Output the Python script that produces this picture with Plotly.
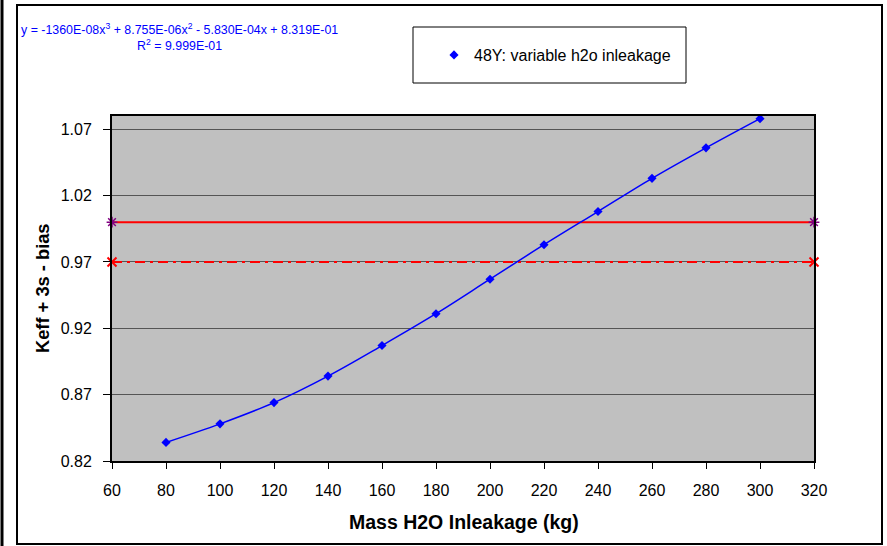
import plotly.graph_objects as go

# ---- data ----
mass_kg = [80, 100, 120, 140, 160, 180, 200, 220, 240, 260, 280, 300]
keff_3s_bias = [0.834, 0.848, 0.864, 0.884, 0.907, 0.931, 0.957, 0.983, 1.008, 1.033, 1.056, 1.078]
series_name = "48Y: variable h2o inleakage"
limit_x = [60, 320]
upper_limit = [1.0, 1.0]
lower_limit = [0.97, 0.97]
y_ticks = [0.82, 0.87, 0.92, 0.97, 1.02, 1.07]
x_ticks = list(range(60, 321, 20))
equation = "y = -1360E-08x<sup>3</sup> + 8.755E-06x<sup>2</sup> - 5.830E-04x + 8.319E-01"
r2_text = "R<sup>2</sup> = 9.999E-01"

W, H = 887, 546
L, R, T, B = 112, 814, 116, 461


def px(x):
    return (x - L) / (R - L)


def py(y):
    return (B - y) / (B - T)


FONT = "Liberation Sans, Arial, sans-serif"

fig = go.Figure()

fig.add_trace(go.Scatter(
    x=limit_x, y=upper_limit, mode="lines+markers", showlegend=False,
    line=dict(color="#FF0000", width=2),
    marker=dict(symbol="asterisk-open", size=9, color="#800080",
                line=dict(color="#800080", width=1.5)),
    cliponaxis=False, hoverinfo="skip"))
fig.add_trace(go.Scatter(
    x=limit_x, y=lower_limit, mode="lines+markers", showlegend=False,
    line=dict(color="#FF0000", width=2, dash="10px,5px,3px,5px"),
    marker=dict(symbol="x-thin-open", size=9, color="#FF0000",
                line=dict(color="#FF0000", width=2)),
    cliponaxis=False, hoverinfo="skip"))

fig.add_trace(go.Scatter(
    x=mass_kg, y=keff_3s_bias, mode="lines+markers", name=series_name,
    showlegend=False, legendgroup="s",
    line=dict(color="#0000FF", width=1.5, shape="spline"),
    marker=dict(symbol="diamond", size=7, color="#0000FF"),
    cliponaxis=False))
# legend entry (marker only, as in the reference legend)
fig.add_trace(go.Scatter(
    x=[None], y=[None], mode="markers", name=series_name, legendgroup="s",
    marker=dict(symbol="diamond", size=7, color="#0000FF")))

shapes = [
    # chart area frame
    dict(type="rect", xref="paper", yref="paper",
         x0=px(17), x1=px(882), y0=py(544), y1=py(5),
         line=dict(color="black", width=2), layer="below"),
    # left outer line
    dict(type="line", xref="paper", yref="paper",
         x0=px(2), x1=px(2), y0=py(546), y1=py(0),
         line=dict(color="black", width=3)),
    # legend box
    dict(type="rect", xref="paper", yref="paper",
         x0=px(413), x1=px(686), y0=py(83), y1=py(27),
         line=dict(color="black", width=1), fillcolor="white", layer="below"),
]

annotations = [
    dict(text=equation, xref="paper", yref="paper", x=px(19), y=py(29),
         xanchor="left", yanchor="middle", showarrow=False,
         font=dict(family=FONT, size=12.4, color="#0000FF")),
    dict(text=r2_text, xref="paper", yref="paper", x=px(179), y=py(45),
         xanchor="center", yanchor="middle", showarrow=False,
         font=dict(family=FONT, size=12.4, color="#0000FF")),
    dict(text="<b>Keff + 3s - bias</b>", xref="paper", yref="paper",
         x=px(42), y=py(288), textangle=-90, xanchor="center", yanchor="middle",
         showarrow=False, font=dict(family=FONT, size=18.3, color="black")),
    dict(text="<b>Mass H2O Inleakage (kg)</b>", xref="paper", yref="paper",
         x=px(464), y=py(522), xanchor="center", yanchor="middle",
         showarrow=False, font=dict(family=FONT, size=19.5, color="black")),
]

fig.update_layout(
    width=W, height=H,
    margin=dict(l=L, r=W - R, t=T, b=H - B, pad=0),
    paper_bgcolor="white", plot_bgcolor="#C0C0C0",
    font=dict(family=FONT, size=16, color="black"),
    shapes=shapes, annotations=annotations,
    showlegend=True,
    legend=dict(x=px(434), y=py(55), xanchor="left", yanchor="middle",
                bgcolor="rgba(0,0,0,0)", borderwidth=0,
                font=dict(family=FONT, size=16, color="black"),
                itemwidth=30),
    xaxis=dict(range=[60, 320], tickvals=x_ticks, ticktext=[str(v) for v in x_ticks],
               showgrid=False, zeroline=False,
               showline=True, linecolor="black", linewidth=2, mirror=True,
               ticks="outside", ticklen=6, tickwidth=1, tickcolor="black",
               ticklabelstandoff=8,
               tickfont=dict(family=FONT, size=16, color="black")),
    yaxis=dict(range=[0.82, 1.08], tickvals=y_ticks,
               ticktext=[f"{v:.2f}" for v in y_ticks],
               showgrid=True, gridcolor="#555555", gridwidth=1, zeroline=False,
               showline=True, linecolor="black", linewidth=2, mirror=True,
               ticks="outside", ticklen=7, tickwidth=1, tickcolor="black",
               ticklabelstandoff=8,
               tickfont=dict(family=FONT, size=16, color="black")),
)

fig.write_html("out.html",
               config={"displayModeBar": False},
               post_script="document.body.style.margin='0';document.body.style.padding='0';")
